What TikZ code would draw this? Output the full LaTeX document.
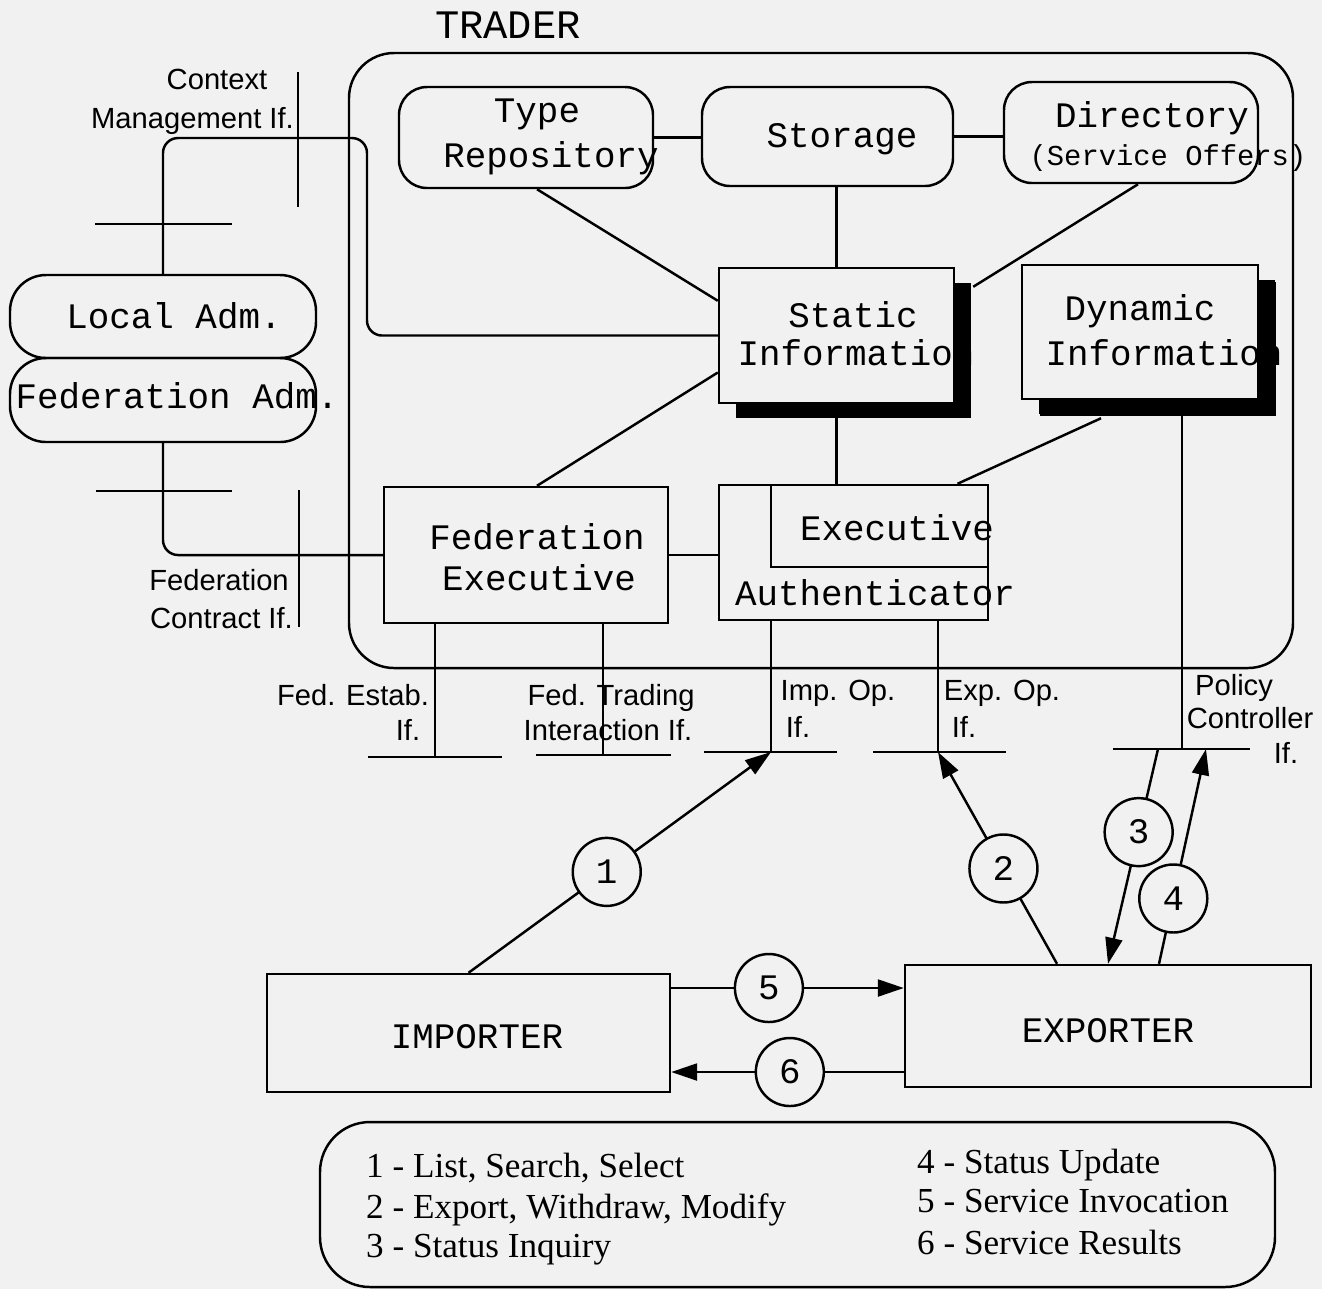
\documentclass[tikz,border=0pt]{standalone}
\usepackage{fontspec}
\setmainfont{Liberation Serif}
\newfontfamily\monofont{Liberation Mono}
\newfontfamily\labelfont{Liberation Sans}
\usepackage{tikz}
\usetikzlibrary{positioning,shapes,shadows}
\usetikzlibrary{arrows.meta}
\tikzstyle{every node}=[line width=0.7pt]
\tikzset{>={Triangle[length=2.6mm,width=1.7mm]}}
\definecolor{paper}{RGB}{241,241,241}

\begin{document}
\begin{tikzpicture}[line width=0.7pt]
        \tikzstyle{rbox} = [draw, rounded corners=0.28cm, inner sep=0pt]
        \tikzstyle{sbox} = [draw, inner sep=0pt]
        \tikzstyle{ibox} = [draw, fill=paper, inner sep=0pt, drop shadow={fill=black, opacity=1, shadow xshift=0.17cm, shadow yshift=-0.15cm}]
        \tikzstyle{mtxt} = [inner sep=0pt, anchor=base, font=\fontsize{10.2}{12}\monofont]
        \tikzstyle{ltxt} = [inner sep=0pt, anchor=base, font=\fontsize{8.3}{10}\labelfont]
        \tikzstyle{ktxt} = [inner sep=0pt, anchor=base west, font=\fontsize{10}{12}\selectfont]
        \tikzstyle{cnode} = [draw, circle, fill=paper, inner sep=0pt, minimum size=0.68cm, font=\fontsize{10.2}{12}\monofont]

        \fill[paper] (0,0) rectangle (13.22,-12.89);
        \useasboundingbox (0,0) rectangle (13.22,-12.89);

        % trader and its parts
        \node[sbox, rounded corners=0.45cm, minimum width=9.44cm, minimum height=6.15cm] (trader) at (8.21,-3.605) {};
        \node[mtxt, font=\fontsize{11.5}{13}\monofont] (tradertxt) at (5.08,-0.38) {TRADER};

        \node[rbox, minimum width=2.54cm, minimum height=1.01cm] (typerep) at (5.26,-1.375) {};
        \node[rbox, minimum width=2.51cm, minimum height=0.99cm] (storage) at (8.275,-1.365) {};
        \node[rbox, minimum width=2.54cm, minimum height=1.01cm] (directory) at (11.31,-1.325) {};
        \node[ibox, minimum width=2.35cm, minimum height=1.35cm] (static) at (8.365,-3.355) {};
        \node[ibox, minimum width=2.36cm, minimum height=1.34cm, drop shadow={fill=black, opacity=1, shadow xshift=0.18cm, shadow yshift=-0.17cm}] (dynamic) at (11.40,-3.32) {};
        \node[sbox, minimum width=2.84cm, minimum height=1.36cm] (fedexec) at (5.26,-5.55) {};
        \node[sbox, minimum width=2.69cm, minimum height=1.35cm] (auth) at (8.535,-5.525) {};
        \node[sbox, minimum width=2.17cm, minimum height=0.82cm] (exec) at (8.795,-5.26) {};

        \node[mtxt] (typetxt) at (5.37,-1.22) {Type};
        \node[mtxt] (reptxt) at (5.51,-1.67) {Repository};
        \node[mtxt] (stortxt) at (8.42,-1.47) {Storage};
        \node[mtxt] (dirtxt) at (11.52,-1.27) {Directory};
        \node[mtxt, font=\fontsize{8.2}{10}\monofont] (offtxt) at (11.68,-1.65) {(Service Offers)};
        \node[mtxt] (stattxt) at (8.53,-3.27) {Static};
        \node[mtxt] (sinftxt) at (8.56,-3.65) {Information};
        \node[mtxt] (dyntxt) at (11.40,-3.20) {Dynamic};
        \node[mtxt] (dinftxt) at (11.64,-3.65) {Information};
        \node[mtxt] (exectxt) at (8.97,-5.40) {Executive};
        \node[mtxt] (authtxt) at (8.75,-6.05) {Authenticator};
        \node[mtxt] (fedtxt) at (5.37,-5.49) {Federation};
        \node[mtxt] (fexectxt) at (5.39,-5.90) {Executive};

        % administration
        \node[sbox, rounded corners=0.36cm, minimum width=3.06cm, minimum height=0.83cm] (localadm) at (1.63,-3.165) {};
        \node[sbox, rounded corners=0.36cm, minimum width=3.06cm, minimum height=0.84cm] (fedadm) at (1.63,-4.00) {};
        \node[mtxt] (loctxt) at (1.74,-3.28) {Local Adm.};
        \node[mtxt] (fadmtxt) at (1.77,-4.08) {Federation Adm.};

        % importer, exporter, key
        \node[sbox, minimum width=4.03cm, minimum height=1.18cm] (importer) at (4.685,-10.33) {};
        \node[sbox, minimum width=4.06cm, minimum height=1.22cm] (exporter) at (11.08,-10.26) {};
        \node[mtxt] (imptxt) at (4.77,-10.48) {IMPORTER};
        \node[mtxt] (exptxt) at (11.08,-10.42) {EXPORTER};
        \node[sbox, rounded corners=0.5cm, minimum width=9.55cm, minimum height=1.65cm] (legend) at (7.975,-12.045) {};

        \node[ktxt] (k1) at (3.65,-11.77) {1 - List, Search, Select};
        \node[ktxt] (k2) at (3.65,-12.18) {2 - Export, Withdraw, Modify};
        \node[ktxt] (k3) at (3.65,-12.57) {3 - Status Inquiry};
        \node[ktxt] (k4) at (9.16,-11.73) {4 - Status Update};
        \node[ktxt] (k5) at (9.16,-12.12) {5 - Service Invocation};
        \node[ktxt] (k6) at (9.16,-12.54) {6 - Service Results};

        % interface points
        \coordinate (estab) at (4.35,-7.57);
        \coordinate (trading) at (6.03,-7.55);
        \coordinate (impop) at (7.71,-7.52);
        \coordinate (expop) at (9.38,-7.52);
        \coordinate (policy) at (11.82,-7.49);
        \coordinate (ctxcut) at (2.98,-1.38);
        \coordinate (ctxbar) at (1.63,-2.24);
        \coordinate (fcbar) at (1.63,-4.91);
        \coordinate (fccut) at (2.99,-5.57);

        \draw (estab) ++(-0.67,0) -- ++(1.34,0);
        \draw (trading) ++(-0.67,0) -- ++(1.35,0);
        \draw (impop) ++(-0.67,0) -- ++(1.33,0);
        \draw (expop) ++(-0.65,0) -- ++(1.33,0);
        \draw (policy) ++(-0.69,0) -- ++(1.37,0);
        \draw (ctxcut) ++(0,0.66) -- ++(0,-1.35);
        \draw (ctxbar) ++(-0.68,0) -- ++(1.37,0);
        \draw (fcbar) ++(-0.67,0) -- ++(1.36,0);
        \draw (fccut) ++(0,0.67) -- ++(0,-1.37);

        \node[ltxt] (ctx1) at (2.17,-0.89) {Context};
        \node[ltxt] (ctx2) at (1.925,-1.28) {Management If.};
        \node[ltxt] (fc1) at (2.19,-5.90) {Federation};
        \node[ltxt] (fc2) at (2.215,-6.28) {Contract If.};
        \node[ltxt] (fe1) at (3.53,-7.05) {Fed. Estab.};
        \node[ltxt] (fe2) at (4.08,-7.40) {If.};
        \node[ltxt] (ft1) at (6.11,-7.05) {Fed. Trading};
        \node[ltxt] (ft2) at (6.08,-7.40) {Interaction If.};
        \node[ltxt] (io1) at (8.38,-7.00) {Imp. Op.};
        \node[ltxt] (io2) at (7.98,-7.37) {If.};
        \node[ltxt] (eo1) at (10.02,-7.00) {Exp. Op.};
        \node[ltxt] (eo2) at (9.64,-7.37) {If.};
        \node[ltxt] (pc1) at (12.34,-6.95) {Policy};
        \node[ltxt] (pc2) at (12.50,-7.28) {Controller};
        \node[ltxt] (pc3) at (12.86,-7.63) {If.};

        % links inside the trader
        \draw (typerep.east) -- (typerep.east -| storage.west);
        \draw (storage.east) -- (storage.east -| directory.west);
        \draw (static.north) -- (static.north |- storage.south);
        \draw ([xshift=0.11cm]typerep.south) -- ([yshift=-0.34cm]static.north west);
        \draw ([xshift=0.07cm]directory.south) -- ([xshift=0.18cm,yshift=-0.2cm]static.north east);
        \draw ([yshift=-0.37cm]static.west) -- ([xshift=0.11cm]fedexec.north);
        \draw (static.south) -- (static.south |- auth.north);
        \draw ([xshift=-0.39cm,yshift=-0.18cm]dynamic.south) -- ([xshift=1.04cm]auth.north);
        \draw (fedexec.east) -- (fedexec.east -| auth.west);
        \draw[rounded corners=0.15cm] (static.west) -| (3.67,-1.38) -| (localadm.north);
        \draw[rounded corners=0.15cm] (fedadm.south) |- (fedexec.west);

        \draw (fedexec.south -| estab) -- (estab);
        \draw (fedexec.south -| trading) -- (trading);
        \draw (auth.south -| impop) -- (impop);
        \draw (auth.south -| expop) -- (expop);
        \draw (dynamic.south -| policy) -- (policy);

        % numbered interactions
        \draw[->] (importer.north) -- node[cnode, pos=0.457] (c1) {1} (impop);
        \draw[->] ([xshift=-0.51cm]exporter.north) -- node[cnode, pos=0.45] (c2) {2} (expop);
        \draw[->] ([xshift=-0.24cm]policy) -- node[cnode, pos=0.387] (c3) {3} (exporter.north);
        \draw[->] ([xshift=0.51cm]exporter.north) -- node[cnode, pos=0.304] (c4) {4} ([xshift=0.24cm]policy);

        \coordinate (inv) at ([yshift=0.45cm]importer.east);
        \coordinate (res) at ([yshift=-0.39cm]importer.east);
        \draw[->] (inv) -- node[cnode, pos=0.42] (c5) {5} (inv -| exporter.west);
        \draw[->] (res -| exporter.west) -- node[cnode, pos=0.49] (c6) {6} (res);
      \end{tikzpicture}
\end{document}
